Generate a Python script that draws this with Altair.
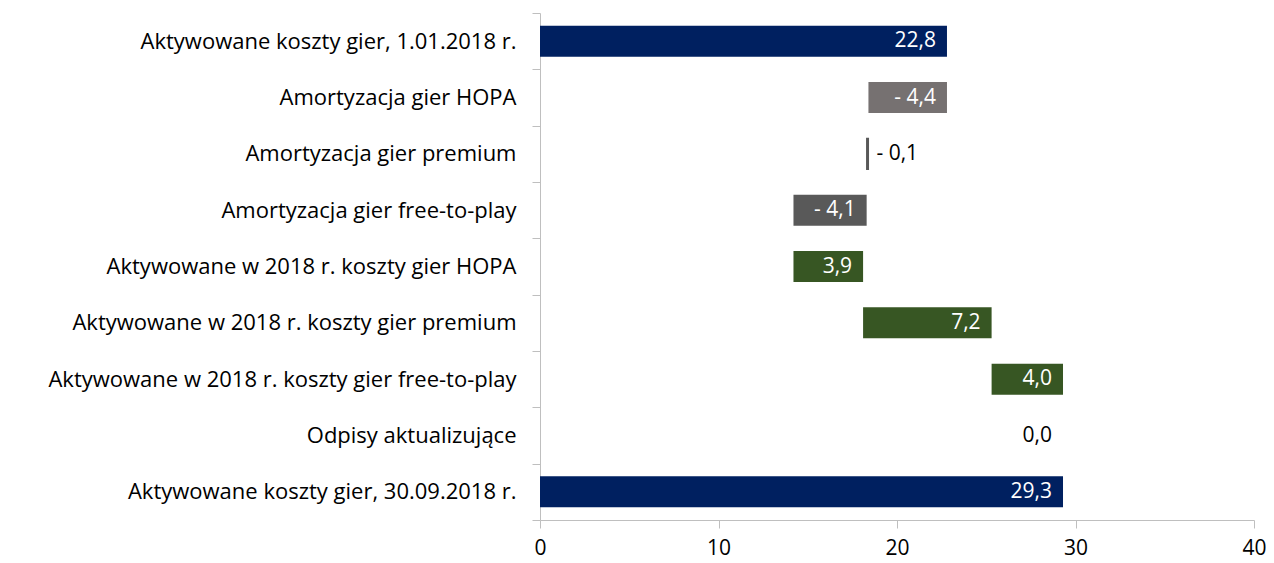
import altair as alt
import pandas as pd

categories = [
    "Aktywowane koszty gier, 1.01.2018 r.",
    "Amortyzacja gier HOPA",
    "Amortyzacja gier premium",
    "Amortyzacja gier free-to-play",
    "Aktywowane w 2018 r. koszty gier HOPA",
    "Aktywowane w 2018 r. koszty gier premium",
    "Aktywowane w 2018 r. koszty gier free-to-play",
    "Odpisy aktualizujące",
    "Aktywowane koszty gier, 30.09.2018 r.",
]
changes = [22.8, -4.4, -0.1, -4.1, 3.9, 7.2, 4.0, 0.0, 29.3]
kinds = ["total", "delta", "delta", "delta", "delta", "delta", "delta", "delta", "total"]
colors = ["#002060", "#767171", "#595959", "#595959", "#375623", "#375623", "#375623", "#ffffff", "#002060"]
inside = [True, True, False, True, True, True, True, True, True]
x_ticks = [0, 10, 20, 30, 40]

rows = []
cum = 0.0
for c, v, k, col, ins in zip(categories, changes, kinds, colors, inside):
    if k == "total":
        start, end = 0.0, v
        cum = v
    else:
        start, end = cum, cum + v
        cum = cum + v
    s = f"{abs(v):.1f}".replace(".", ",")
    label = f"- {s}" if v < 0 else s
    rows.append({
        "cat": c, "start": round(start, 2), "end": round(end, 2),
        "right": round(max(start, end), 2), "color": col, "label": label,
        "inside": ins, "tcolor": "#ffffff" if (ins and abs(v) > 0) else "#000000",
        "sw": 1.2 if abs(v) < 0.5 and v != 0 else 0,
    })
df = pd.DataFrame(rows)

FONT = "Open Sans"

y_enc = alt.Y("cat:N", sort=categories, title=None,
              scale=alt.Scale(paddingInner=0, paddingOuter=0),
              axis=alt.Axis(tickBand="extent", tickSize=8, labelPadding=16,
                            labelFontSize=22, labelFont=FONT, labelColor="#000000",
                            domainColor="#bfbfbf", tickColor="#bfbfbf",
                            labelLimit=600))

bars = alt.Chart(df).mark_bar(height={"band": 0.55}).encode(
    y=y_enc,
    x=alt.X("start:Q", title=None,
            scale=alt.Scale(domain=[0, 40], nice=False),
            axis=alt.Axis(values=x_ticks, grid=False, tickSize=8,
                          labelPadding=9, labelFontSize=21, labelFont=FONT,
                          labelFlush=False,
                          labelColor="#000000", domainColor="#bfbfbf",
                          tickColor="#bfbfbf")),
    x2="end:Q",
    color=alt.Color("color:N", scale=None),
    stroke=alt.Color("color:N", scale=None),
    strokeWidth=alt.StrokeWidth("sw:Q", scale=None),
)

text_in = alt.Chart(df).transform_filter("datum.inside").mark_text(
    align="right", baseline="middle", dx=-11, fontSize=21, font=FONT
).encode(
    y=alt.Y("cat:N", sort=categories),
    x=alt.X("right:Q"),
    text="label:N",
    color=alt.Color("tcolor:N", scale=None),
)

text_out = alt.Chart(df).transform_filter("!datum.inside").mark_text(
    align="left", baseline="middle", dx=8, fontSize=21, font=FONT
).encode(
    y=alt.Y("cat:N", sort=categories),
    x=alt.X("right:Q"),
    text="label:N",
    color=alt.Color("tcolor:N", scale=None),
)

chart = alt.layer(bars, text_in, text_out).properties(
    width=714, height=507,
    autosize=alt.AutoSizeParams(type="none"),
    padding={"left": 532, "top": 5, "right": 12, "bottom": 42},
).configure_view(stroke=None)

chart.save("out.html", embed_options={"renderer": "svg", "actions": False})
